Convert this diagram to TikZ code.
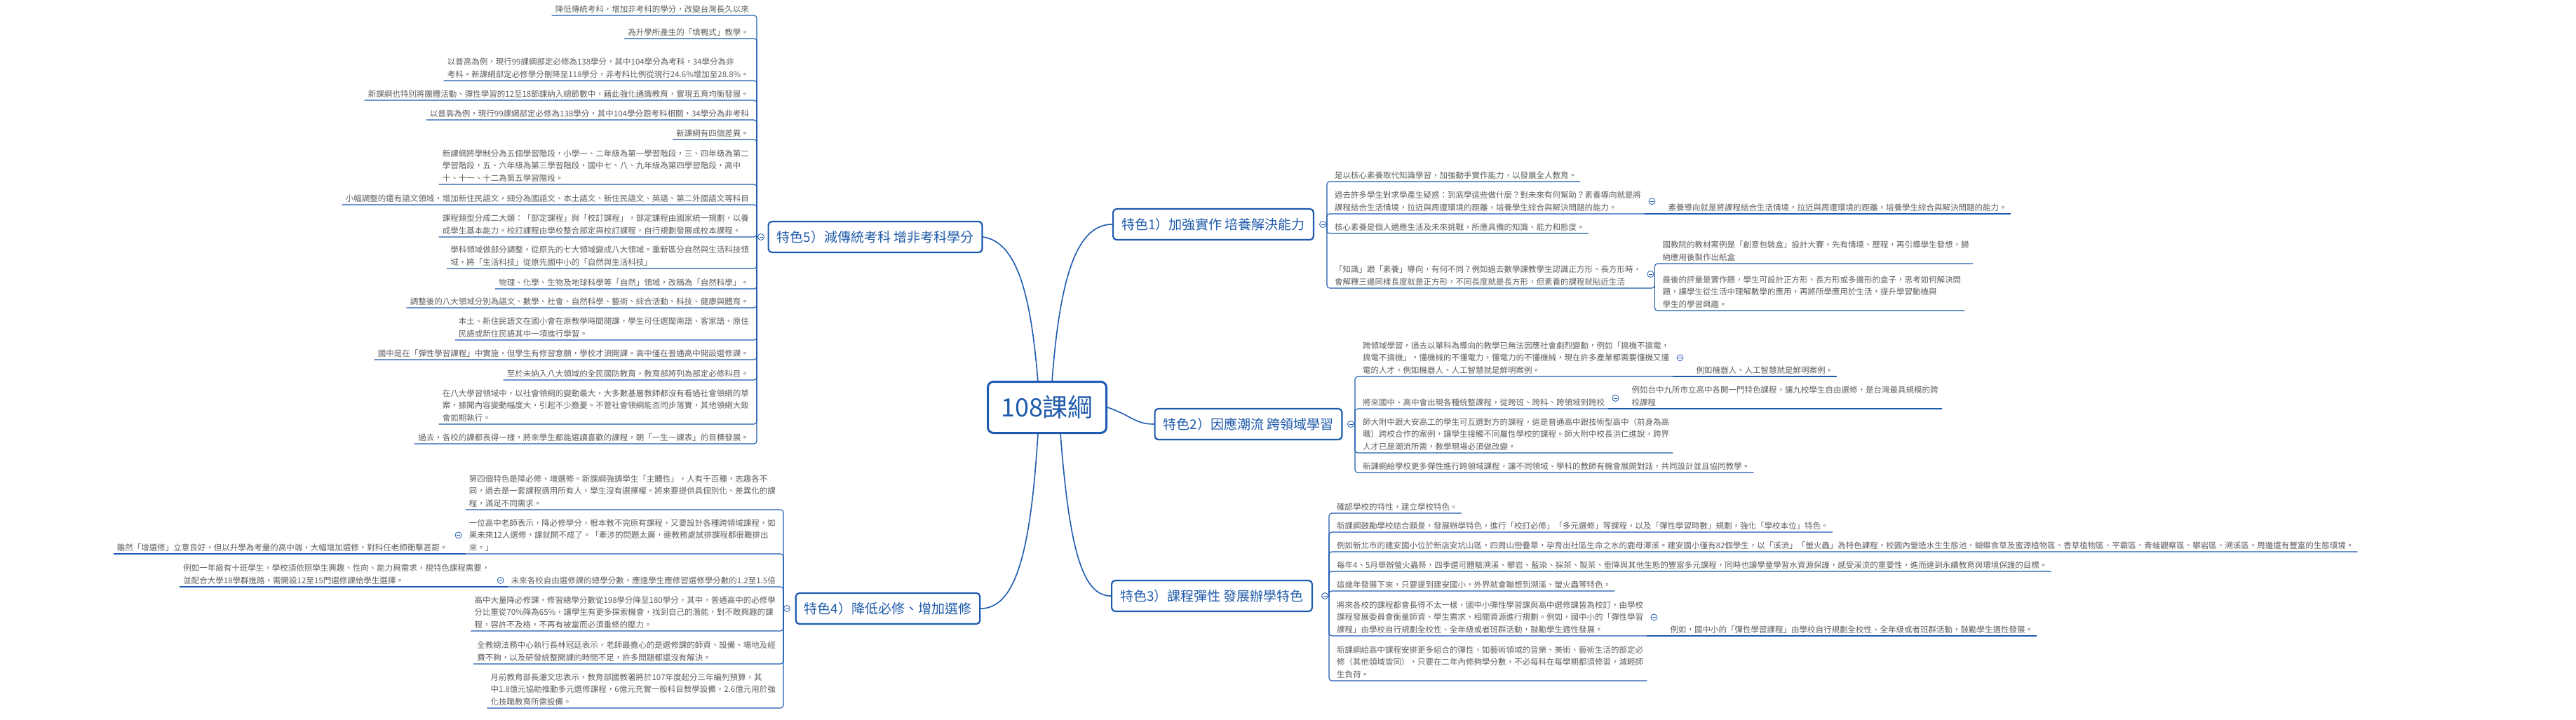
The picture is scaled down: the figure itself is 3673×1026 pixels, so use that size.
\documentclass[tikz,border=0pt]{standalone}
\usepackage{fontspec}
\setmainfont{Noto Sans CJK TC}
\definecolor{lb}{HTML}{1E5BB0}
\definecolor{tb}{HTML}{1F5BAA}
\definecolor{tx}{HTML}{5F5F5F}
\newcommand{\lf}{\fontsize{11.5}{17.5}\selectfont}
\tikzset{
 leaf/.style={font=\lf, text=tx, inner xsep=5pt, inner ysep=3.5pt, align=left},
 lsl/.style={leaf, anchor=south east},
 lsr/.style={leaf, anchor=south west},
 br/.style={draw=lb, line width=1.1pt, rounded corners=4pt},
 topic/.style={draw=lb, line width=2.2pt, rounded corners=5pt, fill=white, text=tb, font=\fontsize{19}{22}\selectfont, inner xsep=12pt, minimum height=44pt},
 conn/.style={draw=lb, line width=1.6pt},
 mk/.style={circle, draw=lb, fill=white, inner sep=0pt, minimum size=9pt, line width=0.8pt,
   path picture={\draw[lb,line width=0.8pt] ([xshift=-2.5pt]path picture bounding box.center) -- ([xshift=2.5pt]path picture bounding box.center);}}
}
\begin{document}
\begin{tikzpicture}[x=1pt,y=-1pt]
\useasboundingbox[fill=white] (0,0) rectangle (3673,1026);
% center
\node[draw=lb, line width=3pt, rounded corners=8pt, fill=white, text=tb, font=\fontsize{36}{40}\selectfont, minimum width=169pt, minimum height=73pt] (c) at (1493,581) {108課綱};
% topics
\node[topic] (t1) at (1730,320) {特色1）加強實作 培養解決能力};
\node[topic] (t2) at (1780,605) {特色2）因應潮流 跨領域學習};
\node[topic] (t3) at (1728,850) {特色3）課程彈性 發展辦學特色};
\node[topic] (t4) at (1266,868) {特色4）降低必修、增加選修};
\node[topic] (t5) at (1248,338) {特色5）減傳統考科 增非考科學分};
\draw[conn] (1480,545) .. controls (1470,420) and (1450,345) .. (t5.east);
\draw[conn] (1480,618) .. controls (1470,780) and (1450,868) .. (t4.east);
\draw[conn] (1500,545) .. controls (1512,380) and (1540,320) .. (t1.west);
\draw[conn] (1512,618) .. controls (1525,790) and (1545,850) .. (t3.west);
\draw[conn] (c.east) .. controls (1612,592) and (1618,605) .. (t2.west);
% junctions
\coordinate (j5) at (1079,338);
\coordinate (j4) at (1117,868);
\coordinate (j1) at (1892,320);
\coordinate (j2) at (1932,605);
\coordinate (j3) at (1895,850);
% ===== T5 leaves (left)
\node[lsl] (a0) at (1073,22) {降低傳統考科，增加非考科的學分，改變台灣長久以來};
\node[lsl] (a1) at (1073,55) {為升學所產生的「填鴨式」教學。};
\node[lsl] (a2) at (1073,115) {以普高為例，現行99課綱部定必修為138學分，其中104學分為考科，34學分為非\\考科。新課綱部定必修學分刪降至118學分，非考科比例從現行24.6\%增加至28.8\%。};
\node[lsl] (a3) at (1073,143) {新課綱也特別將團體活動、彈性學習的12至18節課納入總節數中，藉此強化通識教育，實現五育均衡發展。};
\node[lsl] (a4) at (1073,171) {以普高為例，現行99課綱部定必修為138學分，其中104學分跟考科相關，34學分為非考科};
\node[lsl] (a5) at (1073,199) {新課綱有四個差異。};
\node[lsl] (a6) at (1073,263) {新課綱將學制分為五個學習階段，小學一、二年級為第一學習階段，三、四年級為第二\\學習階段，五、六年級為第三學習階段，國中七、八、九年級為第四學習階段，高中\\十、十一、十二為第五學習階段。};
\node[lsl] (a7) at (1073,292) {小幅調整的還有語文領域，增加新住民語文，細分為國語文、本土語文、新住民語文、英語、第二外國語文等科目};
\node[lsl] (a8) at (1073,338) {課程類型分成二大類：「部定課程」與「校訂課程」，部定課程由國家統一規劃，以養\\成學生基本能力。校訂課程由學校整合部定與校訂課程，自行規劃發展成校本課程。};
\node[lsl] (a9) at (1073,383) {學科領域做部分調整，從原先的七大領域變成八大領域。重新區分自然與生活科技領\\域，將「生活科技」從原先國中小的「自然與生活科技」};
\node[lsl] (a10) at (1073,412) {物理、化學、生物及地球科學等「自然」領域，改稱為「自然科學」。};
\node[lsl] (a11) at (1073,439) {調整後的八大領域分別為語文、數學、社會、自然科學、藝術、綜合活動、科技、健康與體育。};
\node[lsl] (a12) at (1073,485) {本土、新住民語文在國小會在原教學時間開課，學生可任選閩南語、客家語、原住\\民語或新住民語其中一項進行學習。};
\node[lsl] (a13) at (1073,513) {國中是在「彈性學習課程」中實施，但學生有修習意願，學校才須開課。高中僅在普通高中開設選修課。};
\node[lsl] (a14) at (1073,542) {至於未納入八大領域的全民國防教育，教育部將列為部定必修科目。};
\node[lsl] (a15) at (1073,605) {在八大學習領域中，以社會領綱的變動最大，大多數基層教師都沒有看過社會領綱的草\\案，據聞內容變動幅度大，引起不少擔憂。不管社會領綱能否同步落實，其他領綱大致\\會如期執行。};
\node[lsl] (a16) at (1073,633) {過去，各校的課都長得一樣，將來學生都能選讀喜歡的課程，朝「一生一課表」的目標發展。};
\foreach \n in {a0,a1,a2,a3,a4,a5,a6,a7,a8,a9,a10,a11,a12,a13,a14,a15,a16}{\draw[br] (j5) |- (\n.south west);}
\node[mk] (m5) at (1085,338) {};
% ===== T4 leaves (left)
\node[lsl] (b1) at (1111,727) {第四個特色是降必修、增選修。新課綱強調學生「主體性」，人有千百種，志趣各不\\同，過去是一套課程適用所有人，學生沒有選擇權。將來要提供具個別化、差異化的課\\程，滿足不同需求。};
\node[lsl] (b2) at (1111,790) {一位高中老師表示，降必修學分，根本教不完原有課程，又要設計各種跨領域課程，如\\果未來12人選修，課就開不成了。「牽涉的問題太廣，連教務處試排課程都很難排出\\來。」};
\node[lsl] (b3) at (1111,837) {未來各校自由選修課的總學分數，應達學生應修習選修學分數的1.2至1.5倍};
\node[lsl] (b4) at (1111,900) {高中大量降必修課，修習總學分數從198學分降至180學分，其中，普通高中的必修學\\分比重從70\%降為65\%，讓學生有更多探索機會，找到自己的潛能，對不敢興趣的課\\程，容許不及格，不再有被當而必須重修的壓力。};
\node[lsl] (b5) at (1111,947) {全教總法務中心執行長林冠廷表示，老師最擔心的是選修課的師資、設備、場地及經\\費不夠，以及研發統整開課的時間不足，許多問題都還沒有解決。};
\node[lsl] (b6) at (1111,1010) {月前教育部長潘文忠表示，教育部國教署將於107年度起分三年編列預算，其\\中1.8億元協助推動多元選修課程，6億元充實一般科目教學設備，2.6億元用於強\\化技職教育所需設備。};
\foreach \n in {b1,b2,b3,b4,b5,b6}{\draw[br] (j4) |- (\n.south west);}
\node[mk] (m4) at (1122,868) {};
\node[lsl] (b2c) at ([xshift=-20pt]b2.south west) {雖然「增選修」立意良好，但以升學為考量的高中端，大幅增加選修，對科任老師衝擊甚鉅。};
\draw[br] (b2c.south west) -- (b2.south west);
\node[mk] (m4b) at ([xshift=-10pt]b2.west) {};
\node[lsl] (b3c) at ([xshift=-20pt]b3.south west) {例如一年級有十班學生，學校須依照學生興趣、性向、能力與需求，視特色課程需要，\\並配合大學18學群進路，需開設12至15門選修課給學生選擇。};
\draw[br] (b3c.south west) -- (b3.south west);
\node[mk] (m4c) at ([xshift=-10pt]b3.west) {};
% ===== T1 leaves (right)
\node[lsr] (d1) at (1898,259) {是以核心素養取代知識學習，加強動手實作能力，以發展全人教育。};
\node[lsr] (d2) at (1898,305) {過去許多學生對求學產生疑惑：到底學這些做什麼？對未來有何幫助？素養導向就是將\\課程結合生活情境，拉近與周遭環境的距離，培養學生綜合與解決問題的能力。};
\node[lsr] (d3) at (1898,333) {核心素養是個人適應生活及未來挑戰，所應具備的知識、能力和態度。};
\node[lsr] (d4) at (1898,411) {「知識」跟「素養」導向，有何不同？例如過去數學課教學生認識正方形、長方形時，\\會解釋三邊同樣長度就是正方形，不同長度就是長方形，但素養的課程就貼近生活};
\foreach \n in {d1,d2,d3,d4}{\draw[br] (j1) |- (\n.south east);}
\node[mk] (m1) at (1886,320) {};
\node[lsr] (d2c) at ([xshift=28pt]d2.south east) {素養導向就是將課程結合生活情境，拉近與周遭環境的距離，培養學生綜合與解決問題的能力。};
\draw[br] (d2.south east) -- (d2c.south east);
\node[mk] (m1b) at ([xshift=10pt]d2.east) {};
\coordinate (j1d) at ([xshift=14pt,yshift=20pt]d4.south east);
\node[lsr] (e1) at ([xshift=6pt,yshift=15pt]j1d) {國教院的教材案例是「創意包裝盒」設計大賽，先有情境、歷程，再引導學生發想，歸\\納應用後製作出紙盒};
\node[lsr] (e2) at ([xshift=6pt,yshift=-52pt]j1d) {最後的評量是實作題，學生可設計正方形、長方形或多邊形的盒子，思考如何解決問\\題，讓學生從生活中理解數學的應用，再將所學應用於生活，提升學習動機與\\學生的學習興趣。};
\draw[br] (d4.south east) -| (j1d);
\draw[br] (j1d) |- (e1.south east);
\draw[br] (j1d) |- (e2.south east);
\node[mk] (m1d) at ([xshift=-6pt]j1d) {};
% ===== T2 leaves (right)
\node[lsr] (f1) at (1938,537) {跨領域學習。過去以單科為導向的教學已無法因應社會劇烈變動，例如「搞機不搞電，\\搞電不搞機」，懂機械的不懂電力，懂電力的不懂機械，現在許多產業都需要懂機又懂\\電的人才，例如機器人、人工智慧就是鮮明案例。};
\node[lsr] (f2) at (1938,583) {將來國中、高中會出現各種統整課程，從跨班、跨科、跨領域到跨校};
\node[lsr] (f3) at (1938,646) {師大附中跟大安高工的學生可互選對方的課程，這是普通高中跟技術型高中（前身為高\\職）跨校合作的案例，讓學生接觸不同屬性學校的課程。師大附中校長洪仁進說，跨界\\人才已是潮流所需，教學現場必須做改變。};
\node[lsr] (f4) at (1938,674) {新課綱給學校更多彈性進行跨領域課程，讓不同領域、學科的教師有機會展開對話，共同設計並且協同教學。};
\foreach \n in {f1,f2,f3,f4}{\draw[br] (j2) |- (\n.south east);}
\node[mk] (m2) at (1926,605) {};
\node[lsr] (f1c) at ([xshift=28pt]f1.south east) {例如機器人、人工智慧就是鮮明案例。};
\draw[br] (f1.south east) -- (f1c.south east);
\node[mk] (m2a) at ([xshift=10pt]f1.east) {};
\node[lsr] (f2c) at ([xshift=28pt]f2.south east) {例如台中九所市立高中各開一門特色課程，讓九校學生自由選修，是台灣最具規模的跨\\校課程};
\draw[br] (f2.south east) -- (f2c.south east);
\node[mk] (m2b) at ([xshift=10pt,yshift=6pt]f2.east) {};
% ===== T3 leaves (right)
\node[lsr] (g0) at (1901,732) {確認學校的特性，建立學校特色。};
\node[lsr] (g1) at (1901,759) {新課綱鼓勵學校結合願景，發展辦學特色，進行「校訂必修」「多元選修」等課程，以及「彈性學習時數」規劃，強化「學校本位」特色。};
\node[lsr] (g2) at (1901,787) {例如新北市的建安國小位於新店安坑山區，四周山巒疊翠，孕育出社區生命之水的鹿母潭溪。建安國小僅有82個學生，以「溪流」「螢火蟲」為特色課程，校園內營造水生生態池、蝴蝶食草及蜜源植物區、香草植物區、平霸區、青蛙觀察區、攀岩區、溯溪區，周邊還有豐富的生態環境。};
\node[lsr] (g3) at (1901,815) {每年4、5月舉辦螢火蟲祭，四季還可體驗溯溪、攀岩、藍染、採茶、製茶、垂降與其他生態的豐富多元課程，同時也讓學童學習水資源保護，感受溪流的重要性，進而達到永續教育與環境保護的目標。};
\node[lsr] (g4) at (1901,843) {這幾年發展下來，只要提到建安國小，外界就會聯想到溯溪、螢火蟲等特色。};
\node[lsr] (g5) at (1901,907) {將來各校的課程都會長得不太一樣，國中小彈性學習課與高中選修課皆為校訂，由學校\\課程發展委員會衡量師資、學生需求、相關資源進行規劃。例如，國中小的「彈性學習\\課程」由學校自行規劃全校性、全年級或者班群活動，鼓勵學生適性發展。};
\node[lsr] (g6) at (1901,971) {新課綱給高中課程安排更多組合的彈性，如藝術領域的音樂、美術、藝術生活的部定必\\修（其他領域皆同），只要在二年內修夠學分數，不必每科在每學期都須修習，減輕師\\生負荷。};
\foreach \n in {g0,g1,g2,g3,g4,g5,g6}{\draw[br] (j3) |- (\n.south east);}
\node[mk] (m3) at (1889,850) {};
\node[lsr] (g5c) at ([xshift=28pt]g5.south east) {例如，國中小的「彈性學習課程」由學校自行規劃全校性、全年級或者班群活動，鼓勵學生適性發展。};
\draw[br] (g5.south east) -- (g5c.south east);
\node[mk] (m3b) at ([xshift=10pt]g5.east) {};
\end{tikzpicture}
\end{document}
